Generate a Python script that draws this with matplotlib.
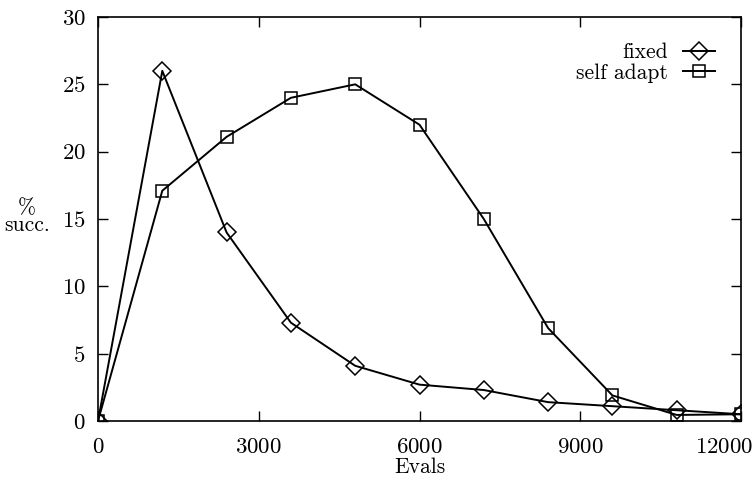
import matplotlib
matplotlib.use("Agg")
import matplotlib.pyplot as plt
from matplotlib.transforms import ScaledTranslation

# evaluations (x) and % success for the two strategies
evals = [0, 1200, 2400, 3600, 4800, 6000, 7200, 8400, 9600, 10800, 12000]
fixed = [0, 26.0, 14.0, 7.3, 4.1, 2.7, 2.3, 1.4, 1.1, 0.8, 0.5]
self_adapt = [0, 17.1, 21.1, 24.0, 25.0, 22.0, 15.0, 6.9, 1.9, 0.45, 0.5]

xticks = [0, 3000, 6000, 9000, 12000]
yticks = [0, 5, 10, 15, 20, 25, 30]

plt.rcParams['font.family'] = ['cmr10', 'DejaVu Serif']
plt.rcParams['axes.formatter.use_mathtext'] = True
plt.rcParams['font.size'] = 16

fig = plt.figure(figsize=(7.53, 4.8), dpi=100)
ax = fig.add_axes([98 / 753, 1 - 421 / 480, 643 / 753, 404 / 480])

ax.plot(evals, fixed, color='black', lw=1.4, marker='D', markersize=9,
        fillstyle='none', markeredgewidth=1.1, label='fixed')
ax.plot(evals, self_adapt, color='black', lw=1.4, marker='s', markersize=9,
        fillstyle='none', markeredgewidth=1.1, label='self adapt')

ax.set_xlim(0, 12000)
ax.set_ylim(0, 30)
ax.set_xticks(xticks)
ax.set_yticks(yticks)
ax.tick_params(direction='in', length=7, width=1, top=True, right=True)
ax.tick_params(axis='y', pad=9, labelsize=16.5)
ax.tick_params(axis='x', pad=12, labelsize=16.5)
for s in ax.spines.values():
    s.set_linewidth(1.2)

# last x label sits flush against the right edge, as in the original
last = ax.get_xticklabels()[-1]
last.set_horizontalalignment('right')
last.set_transform(last.get_transform() + ScaledTranslation(12 / 100, 0, fig.dpi_scale_trans))

ax.set_xlabel('Evals', labelpad=0, fontsize=15.5)
fig.text(0.036, 0.548, '%\nsucc.', ha='center', va='center', fontsize=15.5,
         linespacing=0.8)

leg = ax.legend(loc='upper right', frameon=False, markerfirst=False,
                handlelength=1.5, handletextpad=0.7, labelspacing=0.05,
                borderaxespad=0.8, numpoints=1, fontsize=15.5)

fig.savefig('out.png', dpi=100)
